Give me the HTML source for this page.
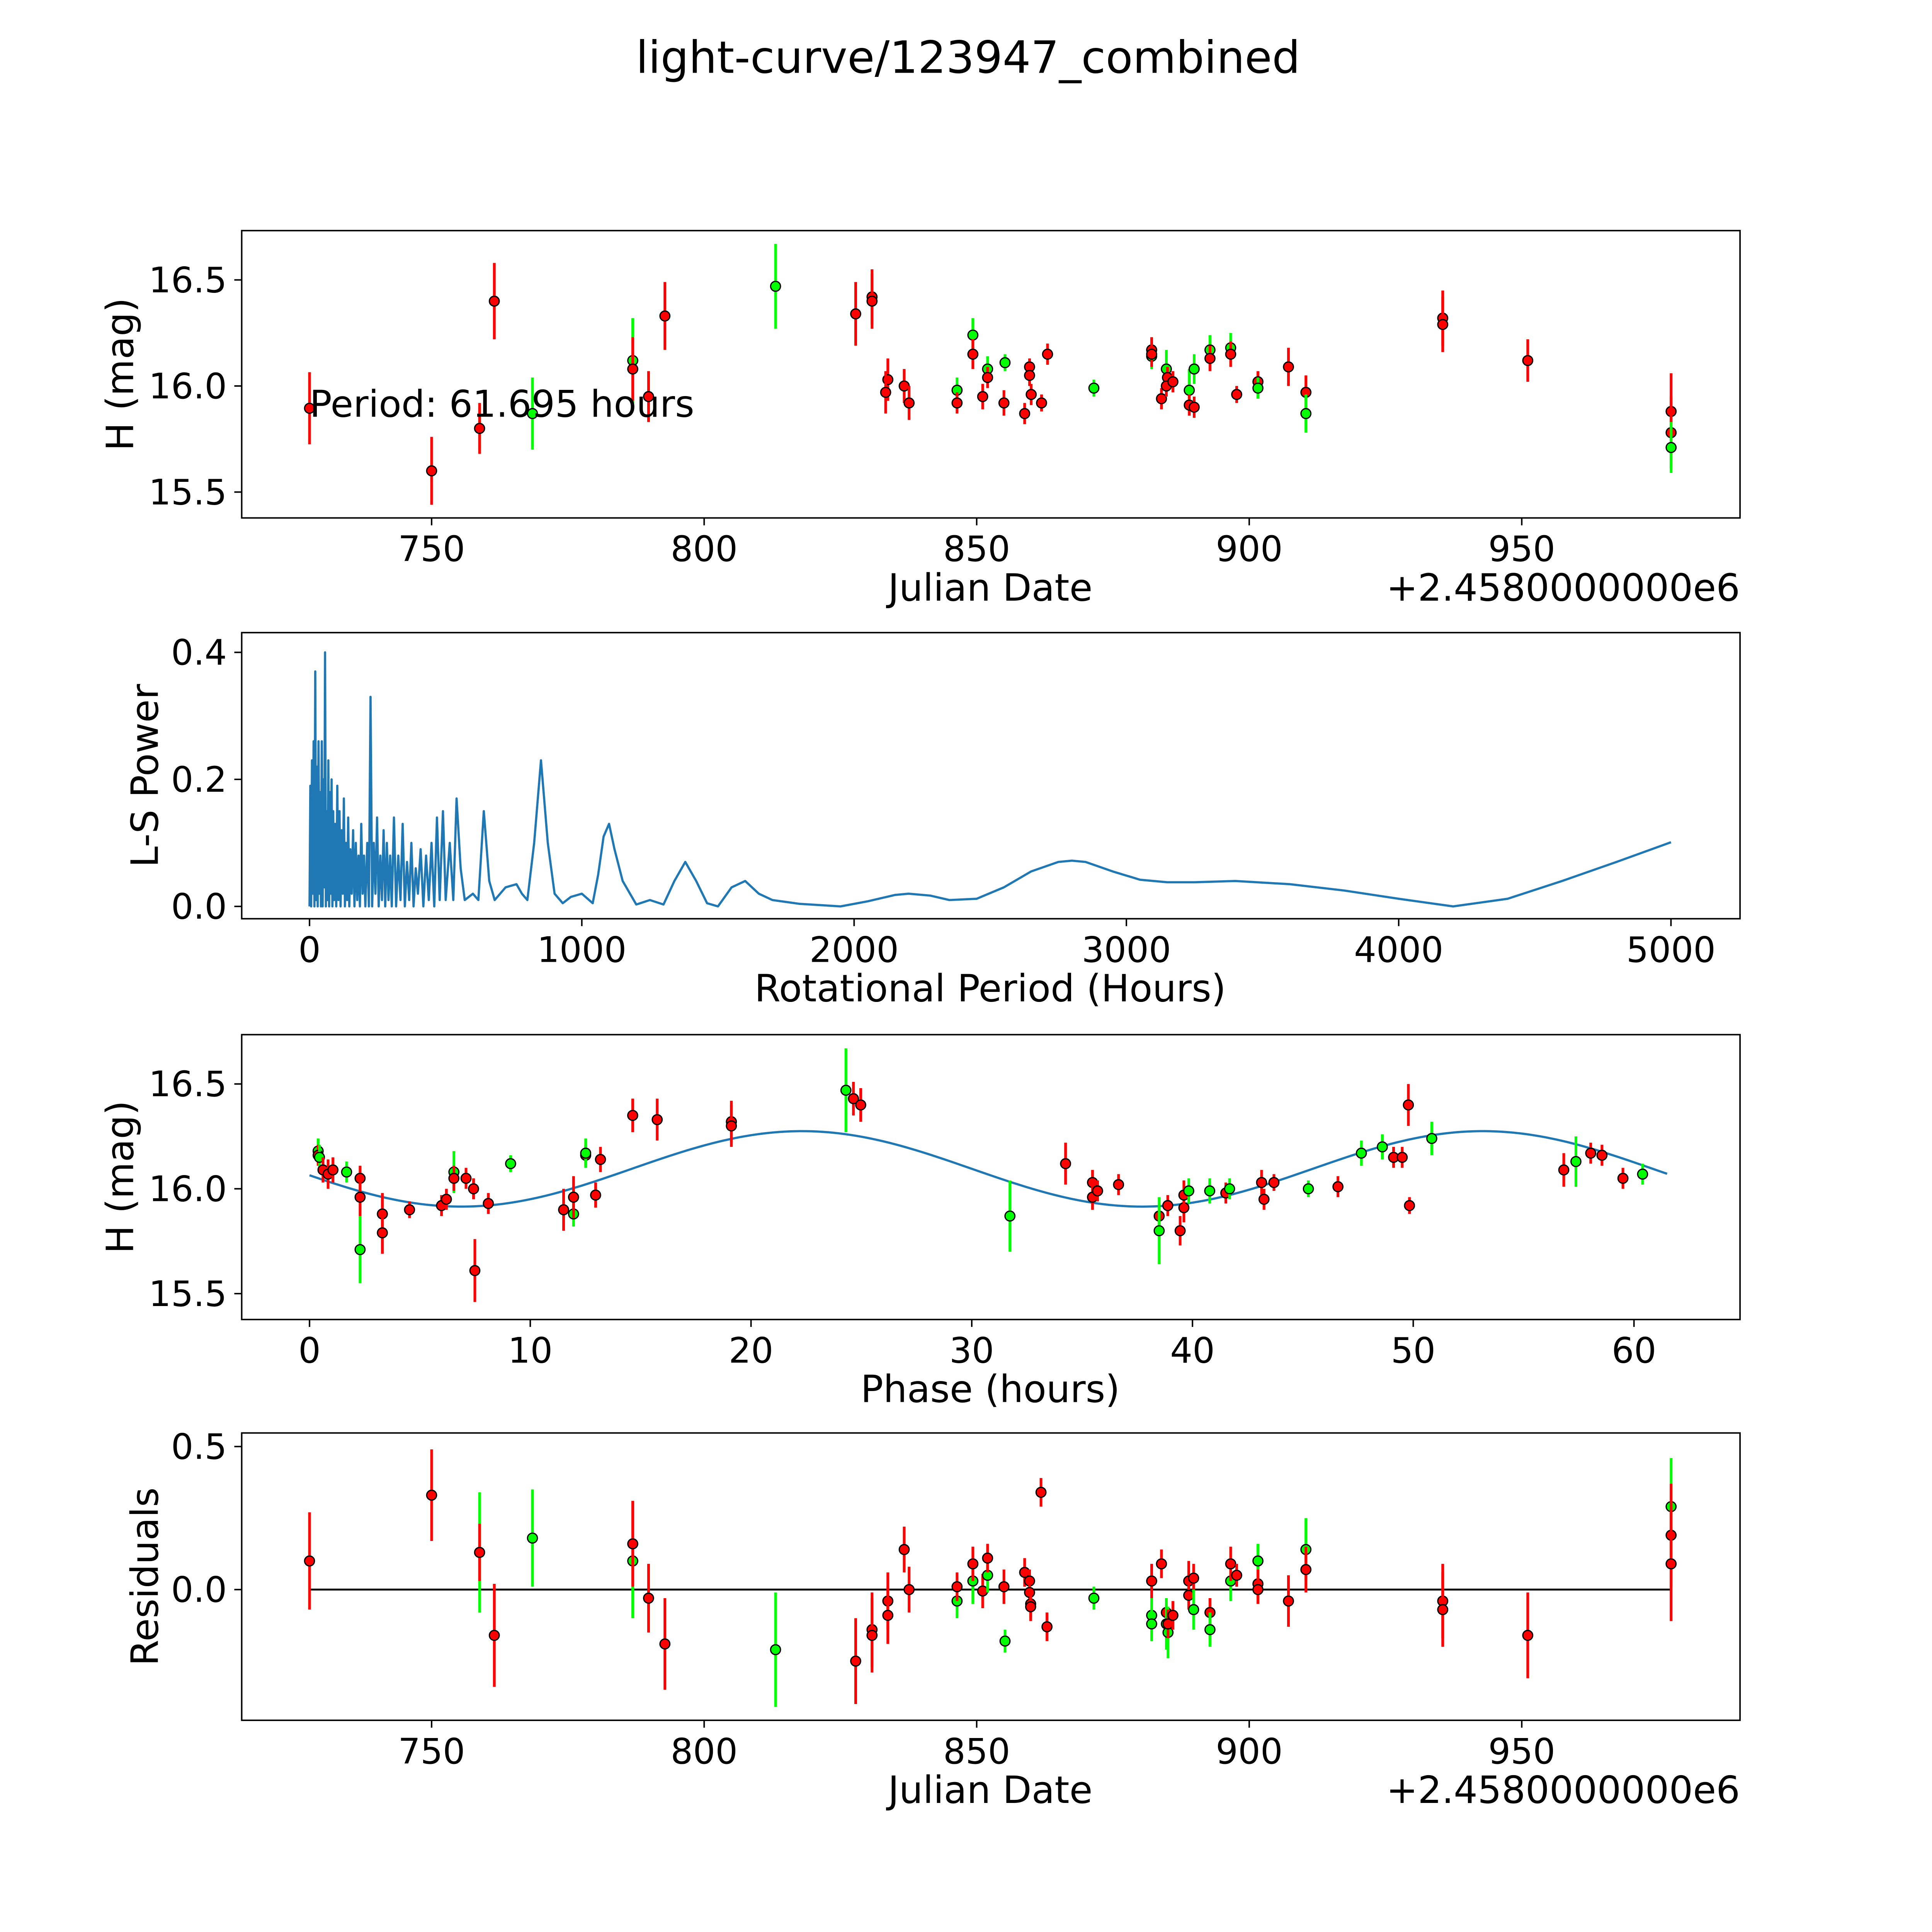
<!DOCTYPE html>
<html><head><meta charset="utf-8"><style>
html,body{margin:0;padding:0;background:#fff;overflow:hidden;width:5400px;height:5400px;}
svg{display:block;font-family:"DejaVu Sans","Liberation Sans",sans-serif;}
</style></head><body>
<svg id="fig" width="5400" height="5400" viewBox="0 0 1692 1692" xmlns="http://www.w3.org/2000/svg">
<rect width="1692" height="1692" fill="#fff"/>
<text x="785" y="59" font-size="36" text-anchor="middle">light-curve/123947_combined</text>
</svg>
<script>
// Observations (Julian date offset, H mag, error, filter colour)
const obsDate = [727.6,750.0,758.8,758.8,761.5,768.5,786.9,786.9,789.8,792.8,813.1,827.8,830.8,830.8,833.7,833.3,836.7,837.6,846.4,846.4,849.3,849.3,851.1,852.0,852.0,855.0,855.2,858.8,859.7,859.7,860.0,861.9,863.0,871.5,882.1,882.1,882.1,883.9,884.8,885.0,884.8,886.0,889.0,889.0,889.9,889.9,892.8,892.8,896.6,896.6,897.7,901.6,901.6,907.2,910.4,910.4,935.5,935.5,951.1,977.4,977.4,977.4];
const obsMag = [15.895,15.60,15.80,15.80,16.40,15.87,16.12,16.08,15.95,16.33,16.47,16.34,16.42,16.40,16.03,15.97,16.00,15.92,15.98,15.92,16.24,16.15,15.95,16.08,16.04,15.92,16.11,15.87,16.09,16.05,15.96,15.92,16.15,15.99,16.17,16.14,16.15,15.94,16.08,16.04,16.00,16.02,15.98,15.91,15.90,16.08,16.17,16.13,16.18,16.15,15.96,16.02,15.99,16.09,15.97,15.87,16.32,16.29,16.12,15.88,15.78,15.71];
const obsErr = [0.17,0.16,0.10,0.12,0.18,0.17,0.20,0.15,0.12,0.16,0.20,0.15,0.13,0.13,0.10,0.10,0.08,0.08,0.06,0.05,0.08,0.07,0.06,0.06,0.05,0.06,0.04,0.05,0.04,0.05,0.05,0.04,0.05,0.04,0.06,0.06,0.06,0.05,0.09,0.05,0.05,0.05,0.10,0.05,0.05,0.07,0.07,0.06,0.07,0.06,0.04,0.05,0.05,0.09,0.08,0.09,0.13,0.13,0.10,0.18,0.17,0.12];
const obsBand = ['r','r','g','r','r','g','g','r','r','r','g','r','r','r','r','r','r','r','g','r','g','r','r','g','r','r','g','r','r','r','r','r','r','g','r','g','r','r','g','r','r','r','g','r','r','g','g','r','g','r','r','r','g','r','r','g','r','r','r','r','r','g'];
// Phased points
const phHours = [0.39,0.39,0.45,0.61,0.84,1.06,1.68,2.29,2.29,2.29,3.30,3.30,4.53,5.98,6.20,6.54,6.54,7.09,7.43,7.49,8.10,9.11,11.51,11.96,11.96,12.51,12.51,12.96,13.18,14.64,15.75,19.11,19.11,24.30,24.64,24.97,31.73,34.25,35.47,35.47,35.70,36.65,38.49,38.49,38.88,39.44,39.61,39.61,39.83,40.78,41.51,41.68,43.13,43.24,43.69,45.25,46.59,47.65,48.60,49.11,49.50,49.78,49.83,50.84,56.82,57.37,58.04,58.55,59.50,60.39];
const phMag = [16.18,16.16,16.15,16.09,16.07,16.09,16.08,16.05,15.96,15.71,15.88,15.79,15.90,15.92,15.95,16.08,16.05,16.05,16.00,15.61,15.93,16.12,15.90,15.88,15.96,16.16,16.17,15.97,16.14,16.35,16.33,16.32,16.30,16.47,16.43,16.40,15.87,16.12,16.03,15.96,15.99,16.02,15.87,15.80,15.92,15.80,15.91,15.97,15.99,15.99,15.98,16.00,16.03,15.95,16.03,16.00,16.01,16.17,16.20,16.15,16.15,16.40,15.92,16.24,16.09,16.13,16.17,16.16,16.05,16.07];
const phErr = [0.06,0.05,0.06,0.06,0.07,0.06,0.05,0.06,0.1,0.16,0.1,0.1,0.04,0.05,0.05,0.1,0.06,0.05,0.05,0.15,0.05,0.04,0.1,0.06,0.1,0.05,0.07,0.06,0.06,0.08,0.1,0.1,0.1,0.2,0.08,0.08,0.17,0.1,0.06,0.06,0.05,0.05,0.05,0.16,0.05,0.07,0.07,0.07,0.06,0.06,0.05,0.05,0.06,0.05,0.04,0.04,0.05,0.06,0.06,0.05,0.05,0.1,0.04,0.08,0.08,0.12,0.05,0.05,0.05,0.05];
const phBand = ['g','r','g','r','r','r','g','r','r','g','r','r','r','r','r','g','r','r','r','r','r','g','r','g','r','r','g','r','r','r','r','r','r','g','r','r','g','r','r','r','r','r','r','g','r','r','r','r','g','g','r','g','r','r','r','g','r','g','g','r','r','r','r','g','r','g','r','r','r','g'];
// Residuals
const resDate = [727.6,750.0,758.8,758.8,761.5,768.5,786.9,786.9,789.8,792.8,813.1,827.8,830.8,830.8,833.7,833.7,836.7,837.6,846.4,846.4,849.3,849.3,851.1,852.0,852.0,855.0,855.2,858.8,859.7,859.7,859.9,859.9,861.8,862.9,871.5,882.1,882.1,882.1,883.9,884.8,884.8,885.1,885.1,886.0,888.9,888.9,889.8,889.8,892.8,892.8,896.6,896.6,897.7,901.6,901.6,901.6,907.2,910.4,910.4,935.5,935.5,951.1,977.4,977.4,977.4];
const resVal = [0.10,0.33,0.13,0.13,-0.16,0.18,0.10,0.16,-0.03,-0.19,-0.21,-0.25,-0.14,-0.16,-0.04,-0.09,0.14,0.0,-0.04,0.01,0.03,0.09,-0.005,0.05,0.11,0.01,-0.18,0.06,0.03,-0.01,-0.05,-0.06,0.34,-0.13,-0.03,0.03,-0.09,-0.12,0.09,-0.08,-0.12,-0.15,-0.12,-0.09,0.03,-0.02,0.04,-0.07,-0.08,-0.14,0.03,0.09,0.05,0.10,0.02,0.0,-0.04,0.14,0.07,-0.04,-0.07,-0.16,0.29,0.19,0.09];
const resErr = [0.17,0.16,0.21,0.1,0.18,0.17,0.2,0.15,0.12,0.16,0.2,0.15,0.13,0.13,0.1,0.1,0.08,0.08,0.06,0.05,0.08,0.06,0.06,0.06,0.05,0.06,0.04,0.05,0.04,0.05,0.05,0.05,0.05,0.05,0.04,0.06,0.06,0.06,0.05,0.05,0.09,0.09,0.05,0.05,0.07,0.05,0.05,0.07,0.05,0.06,0.07,0.06,0.04,0.06,0.05,0.05,0.09,0.11,0.08,0.13,0.13,0.15,0.17,0.18,0.2];
const resBand = ['r','r','g','r','r','g','g','r','r','r','g','r','r','r','r','r','r','r','g','r','g','r','r','g','r','r','g','r','r','r','r','r','r','r','g','r','g','g','r','r','g','g','r','r','r','r','r','g','r','g','g','r','r','g','r','r','r','g','r','r','r','r','g','r','r'];
// Periodogram
const lsPeriod = [0,3,6,9,12,15,18,21,24,27,30,33,36,39,42,45,48,51,54,57,60,63,66,69,72,75,78,81,84,87,90,94,98,102,106,110,114,118,122,126,130,134,138,142,146,150,155,160,165,170,175,180,185,190,195,200,205,212,218,224,230,236,242,248,254,260,266,272,278,284,290,296,302,310,318,326,334,342,350,358,366,374,382,390,398,408,418,428,438,448,458,468,478,490,500,515,528,540,555,570,600,620,640,660,680,720,760,780,800,825,850,875,900,930,960,1000,1040,1060,1080,1100,1120,1150,1200,1250,1300,1340,1380,1420,1460,1500,1550,1600,1650,1700,1800,1950,2050,2150,2200,2280,2350,2450,2550,2650,2750,2800,2850,2950,3050,3150,3250,3400,3600,3800,4000,4200,4400,4600,4800,5000];
const lsPower = [0,.19,0,.23,.02,.26,0,.37,.01,.22,0,.26,.02,.18,0,.26,0,.2,.03,.40,0,.15,.01,.23,0,.18,.02,.2,0,.15,.01,.13,0,.19,.01,.15,0,.12,.02,.17,0,.1,.01,.14,0,.09,.02,.12,0,.1,.01,.08,0,.13,.02,.08,0,.1,0,.33,0,.1,.02,.14,0,.08,.01,.12,0,.1,.01,.08,0,.14,0,.08,.01,.13,0,.07,.01,.1,0,.06,.02,.09,0,.08,.01,.1,0,.14,.01,.15,.01,.1,.01,.17,.06,.01,.02,.01,.15,.04,.01,.03,.035,.02,.01,.1,.23,.1,.02,.005,.015,.02,.005,.05,.11,.13,.09,.04,.003,.01,.003,.04,.07,.04,.005,.0,.03,.04,.02,.01,.004,0,.008,.018,.02,.017,.01,.012,.03,.055,.07,.072,.07,.055,.042,.038,.038,.04,.035,.025,.012,0,.012,.04,.07,.101];
const modelMean = 16.095, modelAmp = 0.18, modelPeak = 22.3, periodHours = 61.695;
const xTicksJD = [750,800,850,900,950];
const yTicksMag = [15.5,16.0,16.5];
const xTicksLS = [0,1000,2000,3000,4000,5000];
const yTicksLS = [0.0,0.2,0.4];
const xTicksPh = [0,10,20,30,40,50,60];
const yTicksRes = [0.0,0.5];

const svg = document.getElementById('fig');
const NS = 'http://www.w3.org/2000/svg';
function mk(tag, attrs, parent){const e=document.createElementNS(NS,tag);for(const k in attrs)e.setAttribute(k,attrs[k]);(parent||svg).appendChild(e);return e;}
function txt(s,attrs,parent){const e=mk('text',attrs,parent);e.textContent=s;return e;}

const L=196,R=1411;
const xJD = d => 350 + (d-750)*4.42;
const xLS = p => 251 + p*0.2208;
const xPh = p => 251 + p*17.9;
function yLin(v0,p0,v1,p1){return v=>p0+(v-v0)*(p1-p0)/(v1-v0);}
const panels = [
 {name:'light-curve-panel',top:187,bot:420,y:yLin(16.0,313,16.5,227),x:xJD,xt:xTicksJD,yt:yTicksMag,xl:'Julian Date',yl:'H (mag)',offset:true,yx:108},
 {name:'periodogram-panel',top:513,bot:745,y:yLin(0,735,0.4,529),x:xLS,xt:xTicksLS,yt:yTicksLS,xl:'Rotational Period (Hours)',yl:'L-S Power',yx:128},
 {name:'phase-panel',top:839,bot:1070,y:yLin(16.0,964,16.5,879),x:xPh,xt:xTicksPh,yt:yTicksMag,xl:'Phase (hours)',yl:'H (mag)',yx:108},
 {name:'residuals-panel',top:1162,bot:1395,y:yLin(0,1289,0.5,1173),x:xJD,xt:xTicksJD,yt:yTicksRes,xl:'Julian Date',yl:'Residuals',offset:true,yx:128}
];
panels.forEach(p=>{
  const g=mk('g',{});
  
  
  p.g=g;
  p.xt.forEach(t=>{const x=p.x(t);
    mk('line',{x1:x,x2:x,y1:p.bot,y2:p.bot+6,stroke:'#000','stroke-width':1.2},g);
    const tl=txt(String(t),{x:x,y:p.bot+35,'font-size':28.5,'text-anchor':'middle'},g);
    
    
  });
  p.yt.forEach(t=>{const y=p.y(t);
    mk('line',{x1:L-6,x2:L,y1:y,y2:y,stroke:'#000','stroke-width':1.2},g);
    const tl=txt(t.toFixed(1),{x:L-12,y:y+10,'font-size':28.5,'text-anchor':'end'},g);
    
    
  });
  const xa=txt(p.xl,{x:803,y:p.bot+67,'font-size':30.5,'text-anchor':'middle'},g);
  
  
  const cy=(p.top+p.bot)/2;
  const ya=txt(p.yl,{x:0,y:0,'font-size':30.5,'text-anchor':'middle',transform:`translate(${p.yx},${cy}) rotate(-90)`},g);
  
  
  if(p.offset){const o=txt('+2.4580000000e6',{x:R,y:p.bot+67,'font-size':30.5,'text-anchor':'end'},g);
    
    }
});
const col = b => b==='g' ? '#00ff00' : '#ff0000';
function model(ph){return modelMean + modelAmp*Math.cos(2*Math.PI*(ph-modelPeak)/(periodHours/2));}
function pt(p,x,v,e,b,nm){
  const g=mk('g',{},p.g);
  
  
  mk('line',{x1:x,x2:x,y1:p.y(v-e),y2:p.y(v+e),stroke:col(b),'stroke-width':2.2},g);
  mk('circle',{cx:x,cy:p.y(v),r:4,fill:col(b),stroke:'#000','stroke-width':1},g);
}
{const p=panels[2];let d='';for(let h=0;h<=periodHours;h+=0.25){d+=(d?'L':'M')+p.x(h).toFixed(2)+','+p.y(model(h)).toFixed(2);}
 const c=mk('path',{d:d,fill:'none',stroke:'#1f77b4','stroke-width':1.8},p.g);
 
 }
{const p=panels[3];const l=mk('line',{x1:xJD(resDate[0]),x2:xJD(977.4),y1:p.y(0),y2:p.y(0),stroke:'#000','stroke-width':1.5},p.g);
 
 }
{const p=panels[1];const d=lsPeriod.map((q,i)=>(i?'L':'M')+p.x(q).toFixed(2)+','+p.y(lsPower[i]).toFixed(2)).join('');
 const c=mk('path',{d:d,fill:'none',stroke:'#1f77b4','stroke-width':1.8,'stroke-linejoin':'round'},p.g);
 
 }
obsDate.forEach((d,i)=>pt(panels[0],xJD(d),obsMag[i],obsErr[i],obsBand[i],'observation-point'));
phHours.forEach((h,i)=>pt(panels[2],xPh(h),phMag[i],phErr[i],phBand[i],'phased-point'));
resDate.forEach((d,i)=>pt(panels[3],xJD(d),resVal[i],resErr[i],resBand[i],'residual-point'));
panels.forEach(p=>{
  const f=mk('rect',{x:L,y:p.top,width:R-L,height:p.bot-p.top,fill:'none',stroke:'#000','stroke-width':1.2},p.g);
  
  
});
const pl=txt('Period: 61.695 hours',{x:251,y:338,'font-size':30},panels[0].g);


</script>
</body></html>
